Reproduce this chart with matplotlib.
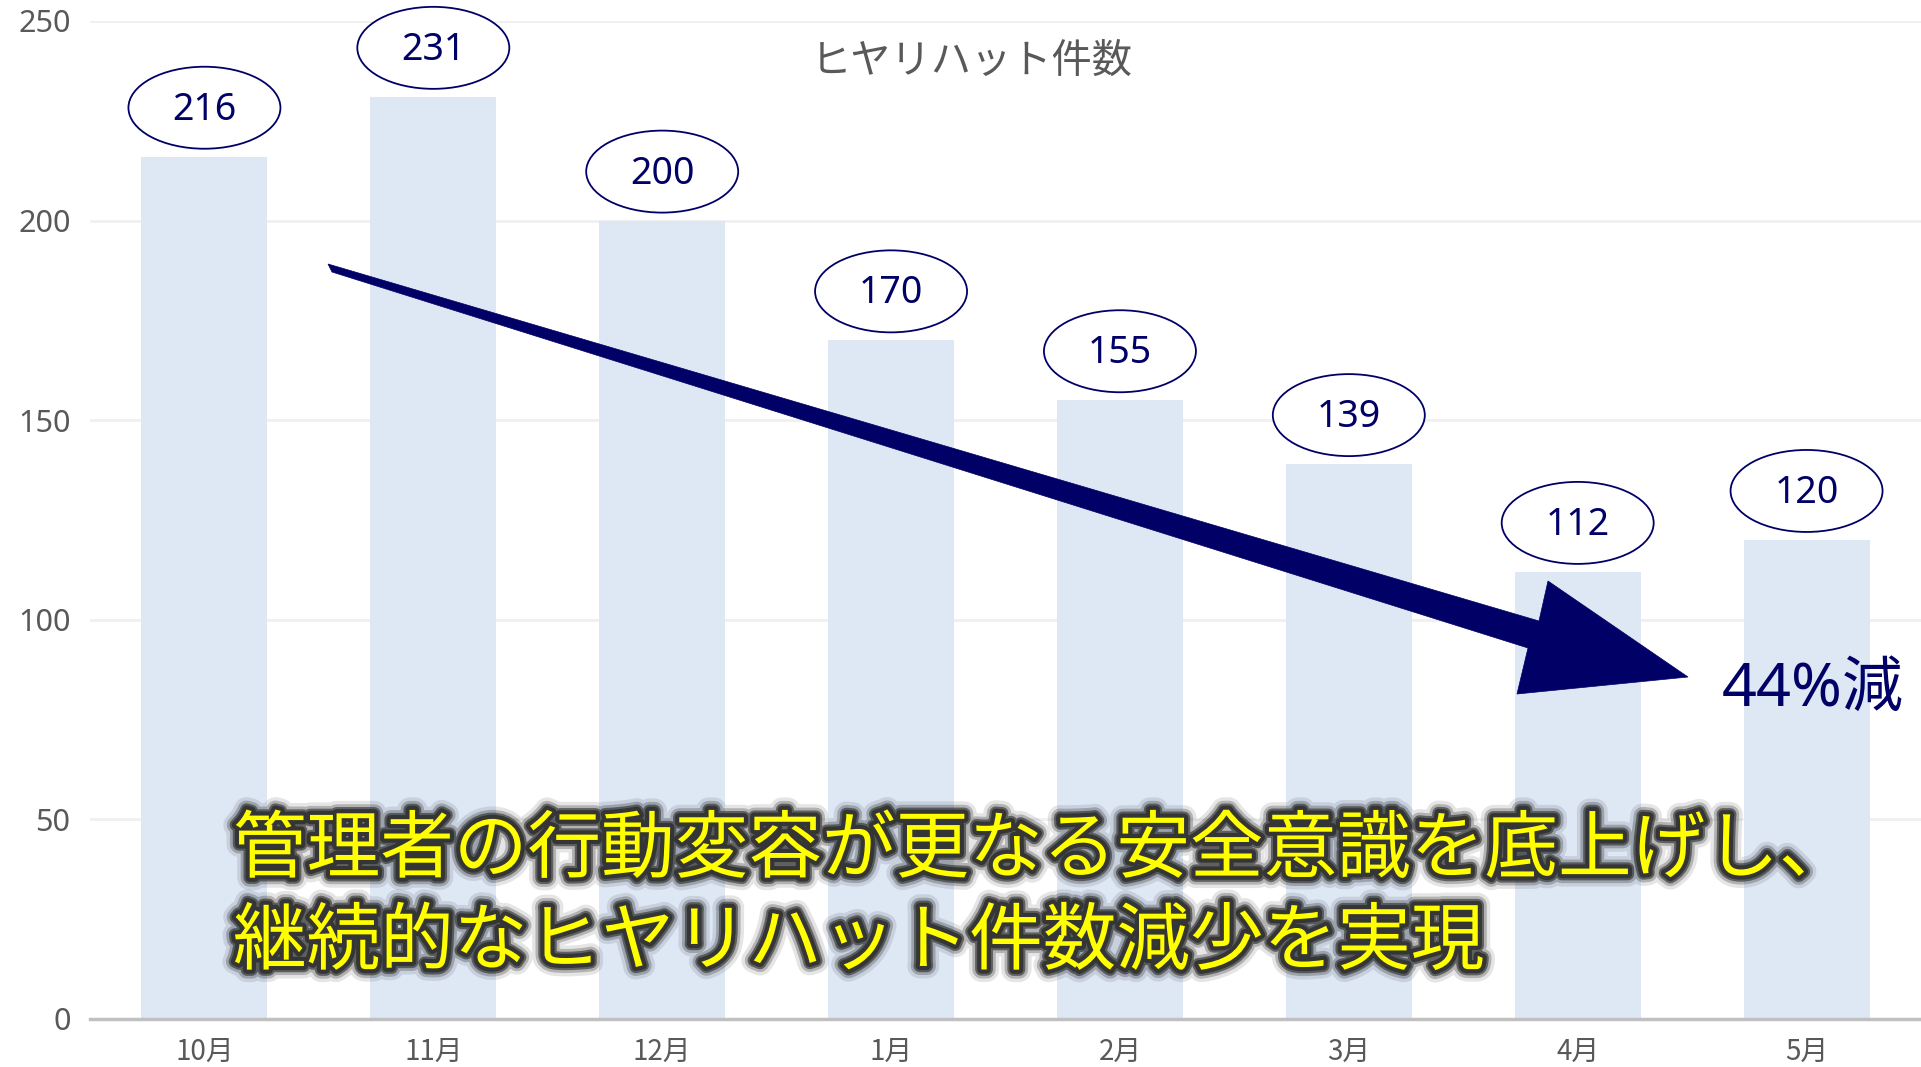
import matplotlib
matplotlib.use("Agg")
import matplotlib.pyplot as plt
import matplotlib.patheffects as pe
from matplotlib.patches import Ellipse, Polygon
from matplotlib.transforms import ScaledTranslation

plt.rcParams['font.family'] = ['Noto Sans CJK JP', 'DejaVu Sans']

months = ['10月', '11月', '12月', '1月', '2月', '3月', '4月', '5月']
counts = [216, 231, 200, 170, 155, 139, 112, 120]
y_ticks = [0, 50, 100, 150, 200, 250]
title = 'ヒヤリハット件数'
reduction_label = '44%減'
message_lines = ['管理者の行動変容が更なる安全意識を底上げし、',
                 '継続的なヒヤリハット件数減少を実現']

W, H = 1921, 1067
NAVY = '#000066'
GRAY = '#595959'
NUM_FONT = ['Noto Sans', 'Noto Sans CJK JP', 'DejaVu Sans']

fig = plt.figure(figsize=(W / 100, H / 100), dpi=100)
ax = fig.add_axes([90 / W, (H - 1019) / H, (W - 90) / W, (1019 - 21) / H])

x = list(range(len(months)))
ax.bar(x, counts, width=0.55, color='#dee8f5', zorder=1)
ax.set_xlim(-0.5, len(months) - 0.5)
ax.set_ylim(0, 250)
ax.set_yticks(y_ticks)
ax.set_xticks(x)
ax.set_xticklabels(months)
ax.tick_params(axis='y', length=0, pad=14, labelsize=22, labelcolor=GRAY)
ax.tick_params(axis='x', length=0, pad=13, labelsize=20, labelcolor=GRAY)
for lbl in ax.get_yticklabels():
    lbl.set_fontfamily(NUM_FONT)
ax.grid(axis='y', color='#f0f0f0', linewidth=2, zorder=0)
ax.set_axisbelow(True)
for s in ['top', 'right', 'left']:
    ax.spines[s].set_visible(False)
ax.spines['bottom'].set_color('#c0c0c0')
ax.spines['bottom'].set_linewidth(2.5)
ax.spines['bottom'].set_zorder(3)

# value labels in ellipses
for xi, v in zip(x, counts):
    tr = fig.dpi_scale_trans + ScaledTranslation(xi, v, ax.transData)
    e = Ellipse((0, 0.49), 1.52, 0.82, transform=tr, facecolor='white',
                edgecolor=NAVY, linewidth=1.3, clip_on=False, zorder=4)
    ax.add_patch(e)
    ax.annotate(str(v), xy=(xi, v), xytext=(0, 47 * 0.72), textcoords='offset points',
                ha='center', va='center', fontsize=27, color=NAVY, zorder=5,
                family=NUM_FONT, annotation_clip=False)

# title
fig.text(972 / W, 1 - 61 / H, title, ha='center', va='center', fontsize=29, color=GRAY)

# big tapered arrow (figure pixel geometry)
arrow_px = [(328, 264), (1539, 621), (1548, 581), (1688, 677),
            (1517, 694), (1528, 648), (332, 272)]
arrow_pts = [(px / W, 1 - py / H) for px, py in arrow_px]
fig.add_artist(Polygon(arrow_pts, closed=True, transform=fig.transFigure,
                       facecolor=NAVY, edgecolor=NAVY, linewidth=0.5, zorder=6))

# reduction label
fig.text(1722 / W, 1 - 690 / H, reduction_label, ha='left', va='center',
         fontsize=44, color=NAVY, zorder=7, family=NUM_FONT)

# message with dark glow
glow = [pe.Stroke(linewidth=18, foreground='#000000', alpha=0.10),
        pe.Stroke(linewidth=13, foreground='#1a1a1a', alpha=0.25),
        pe.Stroke(linewidth=9, foreground='#2a2a2a', alpha=0.6),
        pe.Stroke(linewidth=6, foreground='#333333', alpha=0.95),
        pe.Normal()]
for line, py in zip(message_lines, [851, 943]):
    fig.text(233 / W, 1 - py / H, line, ha='left', va='center', fontsize=53,
             color='#ffff00', zorder=8, path_effects=glow)

fig.savefig('out.png', dpi=100)
